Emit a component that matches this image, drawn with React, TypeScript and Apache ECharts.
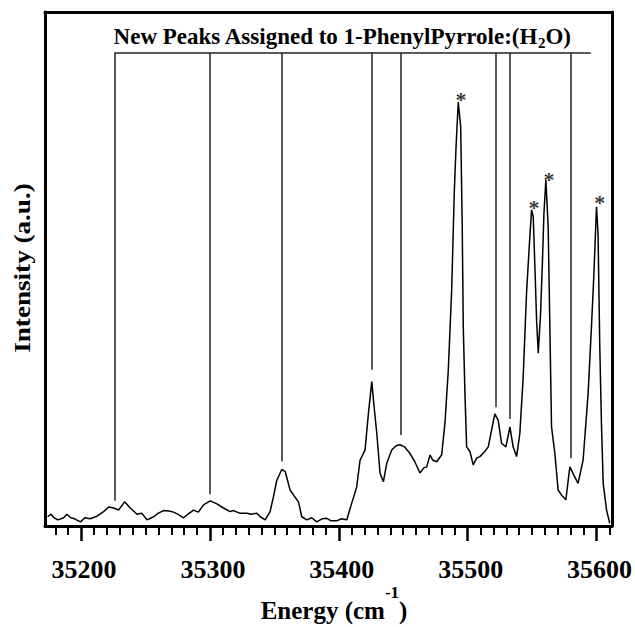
import React, { useEffect, useRef } from "react";
import * as echarts from "echarts";

// Spectrum: energy (cm^-1) and intensity (a.u.)
const energy = [
  35174, 35176.7, 35179, 35182, 35186.5, 35189, 35192, 35195, 35199.5, 35203,
  35207, 35212.4, 35217.5, 35221.4, 35225.3, 35229.1, 35233.8, 35238.2, 35243.4, 35247,
  35251.2, 35256.3, 35260, 35264, 35268, 35271.8, 35275, 35279.5, 35283, 35287.3,
  35291, 35295, 35300.2, 35305.4, 35310.5, 35315.7, 35318.3, 35323, 35328.7, 35332,
  35336.4, 35339, 35342.9, 35346.7, 35349.3, 35351.9, 35355.8, 35358.4, 35362.2, 35365.5,
  35368.7, 35371.3, 35375.2, 35379, 35382.9, 35387, 35390.7, 35394, 35398.4, 35402,
  35406.2, 35410, 35413.9, 35416.5, 35420.4, 35423, 35425.6, 35427.4, 35429.5, 35432,
  35434.6, 35437.2, 35441.1, 35444.5, 35447.5, 35451, 35455.3, 35459, 35463, 35466,
  35468.2, 35470.8, 35473, 35476, 35479.8, 35482.4, 35485, 35487.6, 35489.6, 35491,
  35492.7, 35494.6, 35495.8, 35496.6, 35497.9, 35499.2, 35501.8, 35504.3, 35507, 35509.5,
  35513, 35516, 35518.6, 35521.1, 35523.7, 35526.3, 35529.7, 35532.8, 35535.3, 35538,
  35540.5, 35543.1, 35545.7, 35547.8, 35549.6, 35550.9, 35552.2, 35553.5, 35554.8, 35556.6,
  35558.1, 35559.2, 35560.7, 35562.5, 35563.8, 35565.1, 35567.7, 35570.2, 35572.9, 35576.2,
  35579.3, 35582.4, 35585.7, 35589.6, 35593.5, 35596.1, 35597.9, 35600, 35601.2, 35602.5,
  35603.9, 35605.2, 35607.8, 35610.3,
];
const intensity = [
  1.8, 2.3, 1.6, 1.2, 1.6, 2.3, 1.6, 1.4, 0.8, 1.6,
  1.4, 1.9, 2.8, 3.7, 3.5, 3.1, 4.7, 3.5, 2.3, 2.5,
  1.2, 1.8, 2.5, 3.0, 2.9, 2.7, 2.3, 1.6, 2.3, 3.1,
  2.7, 4.1, 4.9, 4.3, 3.5, 2.8, 3.0, 2.5, 2.5, 2.3,
  2.5, 1.8, 1.2, 2.8, 5.7, 8.9, 11.0, 10.6, 7.0, 5.8,
  4.7, 1.8, 1.2, 1.6, 0.8, 1.4, 1.5, 1.0, 1.0, 1.4,
  1.2, 4.4, 7.6, 12.8, 14.8, 21.9, 28.1, 23.2, 18.0, 10.3,
  8.6, 12.2, 14.8, 15.6, 15.8, 15.4, 14.1, 12.5, 10.3, 11.3,
  11.5, 13.8, 12.8, 12.5, 13.8, 20.0, 30.4, 45.9, 64.7, 73.8,
  82.5, 77.7, 58.2, 38.8, 25.8, 15.4, 14.5, 11.9, 13.2, 13.5,
  14.4, 15.4, 18.7, 21.8, 20.6, 16.1, 15.4, 19.3, 15.4, 13.5,
  18.0, 29.0, 45.3, 54.3, 61.5, 60.2, 50.4, 40.1, 33.6, 41.4,
  51.8, 60.8, 67.3, 58.2, 38.8, 19.3, 14.1, 7.0, 6.0, 5.1,
  11.5, 9.9, 8.3, 12.8, 25.8, 38.8, 48.5, 62.1, 56.9, 35.5,
  19.3, 8.3, 3.1, 0.5,
];

// Assignment markers ("New Peaks Assigned to 1-PhenylPyrrole:(H2O)")
const assignEnergy = [35225.8, 35299.5, 35356.1, 35425.8, 35448.3, 35521.9, 35532.8, 35580.1];
const assignBottom = [4.9, 6.2, 12.6, 30.4, 17.7, 23.1, 20.8, 13.2];
const bracketLevel = 92;
const bracketRange = [35225.8, 35595.6];

// Starred peaks
const starEnergy = [35494.9, 35551.5, 35563.1, 35602.6];
const starLevel = [84.2, 63.1, 68.6, 64.1];

// Axis
const xTicks = [35200, 35300, 35400, 35500, 35600];
const xRange = [35172, 35612];
const yRange = [0, 100];

const FONT = "Liberation Serif";
const FRAME = { show: true, onZero: false, lineStyle: { color: "#000", width: 3 } };

export default function App() {
  const ref = useRef<HTMLDivElement>(null);
  useEffect(() => {
    if (!ref.current) return;
    const chart = echarts.init(ref.current, null, { renderer: "svg" });
    const spectrum = energy.map((e, i) => [e, intensity[i]]);
    const markData: any[] = assignEnergy.map((e, i) => [
      { coord: [e, assignBottom[i]] },
      { coord: [e, bracketLevel] },
    ]);
    markData.push([
      { coord: [bracketRange[0], bracketLevel] },
      { coord: [bracketRange[1], bracketLevel] },
    ]);
    const hiddenAxisParts = {
      axisTick: { show: false },
      axisLabel: { show: false },
      splitLine: { show: false },
    };
    chart.setOption({
      animation: false,
      backgroundColor: "#fff",
      grid: { left: 45, right: 22, top: 12, bottom: 101 },
      xAxis: [
        {
          type: "value",
          min: xRange[0],
          max: xRange[1],
          position: "bottom",
          axisLine: FRAME,
          splitLine: { show: false },
          axisTick: {
            show: true,
            inside: false,
            length: 15,
            customValues: xTicks,
            lineStyle: { color: "#000", width: 2.5 },
          },
          minorTick: {
            show: true,
            splitNumber: 10,
            length: 9,
            lineStyle: { color: "#000", width: 2 },
          },
          axisLabel: {
            customValues: xTicks,
            formatter: (v: number) => String(v),
            margin: 30,
            color: "#000",
            fontFamily: FONT,
            fontWeight: "bold",
            fontSize: 26,
            padding: [0, 0, 0, 6],
          },
        },
        {
          type: "value",
          min: xRange[0],
          max: xRange[1],
          position: "top",
          axisLine: FRAME,
          ...hiddenAxisParts,
        },
      ],
      yAxis: [
        {
          type: "value",
          min: yRange[0],
          max: yRange[1],
          position: "left",
          axisLine: FRAME,
          ...hiddenAxisParts,
        },
        {
          type: "value",
          min: yRange[0],
          max: yRange[1],
          position: "right",
          axisLine: FRAME,
          ...hiddenAxisParts,
        },
      ],
      series: [
        {
          type: "line",
          data: spectrum,
          showSymbol: false,
          symbol: "none",
          lineStyle: { color: "#000", width: 1.5 },
          silent: true,
          markLine: {
            silent: true,
            symbol: ["none", "none"],
            label: { show: false },
            lineStyle: { color: "#222", width: 1.5, type: "solid" },
            data: markData,
          },
        },
        {
          type: "scatter",
          data: starEnergy.map((e, i) => [e, starLevel[i]]),
          symbolSize: 1,
          itemStyle: { color: "transparent" },
          silent: true,
          label: {
            show: true,
            position: "inside",
            formatter: "*",
            offset: [0, 6],
            color: "#000",
            fontFamily: FONT,
            fontWeight: "bold",
            fontSize: 22,
          },
        },
      ],
      graphic: [
        {
          type: "text",
          x: 342,
          y: 36,
          style: {
            text: "{a|New Peaks Assigned to 1-PhenylPyrrole:(H}{s|2}{a|O)}",
            align: "center",
            verticalAlign: "middle",
            rich: {
              a: { fontFamily: FONT, fontWeight: "bold", fontSize: 23, fill: "#000" },
              s: { fontFamily: FONT, fontWeight: "bold", fontSize: 15, fill: "#000", padding: [13, 0, 0, 0] },
            },
          },
        },
        {
          type: "text",
          x: 22,
          y: 268,
          rotation: Math.PI / 2,
          scaleX: 1.18,
          style: {
            text: "Intensity (a.u.)",
            align: "center",
            verticalAlign: "middle",
            fontFamily: FONT,
            fontWeight: "bold",
            fontSize: 23,
            fill: "#000",
          },
        },
        {
          type: "text",
          x: 334,
          y: 610,
          style: {
            text: "{a|Energy (cm}{sup|-1}{a|)}",
            align: "center",
            verticalAlign: "middle",
            rich: {
              a: { fontFamily: FONT, fontWeight: "bold", fontSize: 25, fill: "#000" },
              sup: { fontFamily: FONT, fontWeight: "bold", fontSize: 17, fill: "#000", padding: [0, 0, 35, 0] },
            },
          },
        },
      ],
    });
    return () => chart.dispose();
  }, []);
  return (
    <div
      ref={ref}
      style={{ position: "fixed", left: 0, top: 0, width: 635, height: 627, background: "#fff" }}
    />
  );
}
